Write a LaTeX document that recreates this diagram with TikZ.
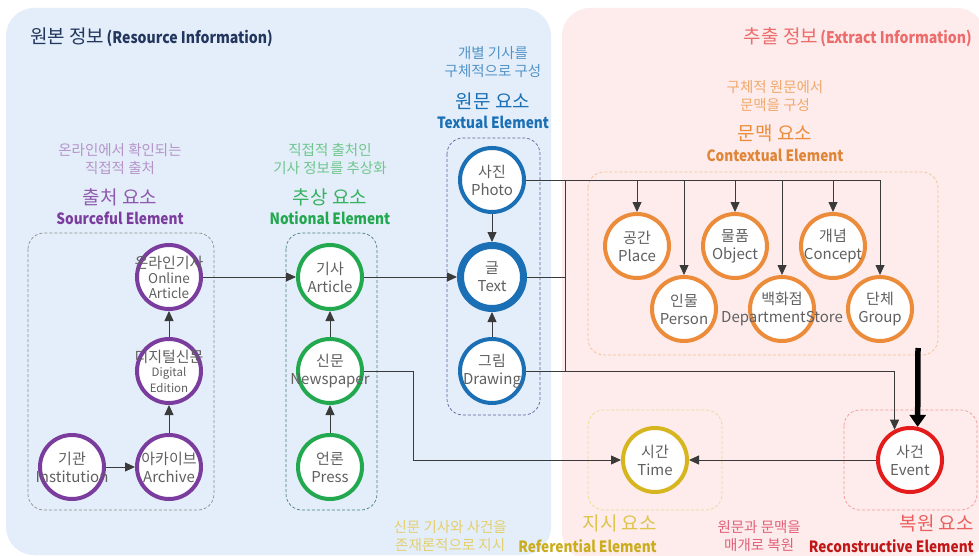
\documentclass[tikz,border=0pt]{standalone}
\usepackage{fontspec}
\setmainfont{Noto Sans CJK KR}
\usetikzlibrary{arrows.meta,calc}
\definecolor{panelblue}{HTML}{E3EEFA}
\definecolor{panelpink}{HTML}{FDECEB}
\definecolor{ln}{HTML}{3A3A3A}
\definecolor{cpurple}{HTML}{7A3D9E}
\definecolor{cgreen}{HTML}{22A84E}
\definecolor{cblue}{HTML}{1A6FB5}
\definecolor{corange}{HTML}{EC8B3A}
\definecolor{cyellow}{HTML}{D6B51E}
\definecolor{cred}{HTML}{E31B1B}
\definecolor{txtgray}{HTML}{606060}
\definecolor{navy}{HTML}{22365E}
\definecolor{rosedesc}{HTML}{E2607A}
\newcommand\sq[1]{\scalebox{0.88}[1]{#1}}
\newcommand\tw[2]{\makebox[0pt]{#1}\\\makebox[0pt]{#2}}
\begin{document}
\begin{tikzpicture}[x=1pt,y=-1pt,
  circ/.style={circle, draw=#1, line width=4pt, fill=white, minimum size=64pt, inner sep=0pt,
    align=center, text=txtgray, font=\fontsize{15}{18}\selectfont},
  grp/.style={draw=#1, dashed, dash pattern=on 3pt off 2pt, rounded corners=16pt, line width=0.7pt},
  conn/.style={line width=0.8pt, draw=ln, -{Triangle[length=10pt,width=9pt]}},
  bus/.style={line width=0.8pt, draw=ln},
  desc/.style={font=\fontsize{14.5}{18.5}\selectfont, align=center, inner sep=0pt},
  head/.style={font=\fontsize{19}{22}\selectfont, inner sep=0pt},
  eng/.style={font=\fontsize{15.5}{18}\selectfont\bfseries, inner sep=0pt}]
\useasboundingbox (0,0) rectangle (979,556);
\fill[white] (0,0) rectangle (979,556);
\begin{scope}
\clip (0,0) rectangle (979,556);
\fill[panelblue, rounded corners=28pt] (6,8) rectangle (551,555);
\fill[panelpink, rounded corners=28pt] (562,8) rectangle (985,560);
\end{scope}

% titles
\node[anchor=west, inner sep=0pt, text=navy] (title1) at (30,37)
  {{\fontsize{19}{20}\selectfont 원본 정보}{\fontsize{16}{18}\selectfont\bfseries\sq{\,(Resource Information)}}};
\node[anchor=east, inner sep=0pt, text=cred!65] (title2) at (972,37)
  {{\fontsize{19}{20}\selectfont 추출 정보}{\fontsize{16}{18}\selectfont\bfseries\sq{\,(Extract Information)}}};

% group boxes
\draw[grp=black!45] (28,233) rectangle (214,510);
\draw[grp=teal!45!gray] (286,233) rectangle (377,510);
\draw[grp=blue!25!gray] (447,138) rectangle (540,415);
\draw[grp=corange!55] (588,172) rectangle (938,355);
\draw[grp=cyellow!50] (588,410) rectangle (722,510);
\draw[grp=cred!45] (844,410) rectangle (977,510);

% labels top
\node[desc, text=cpurple!55] (d1) at (120,159) {온라인에서 확인되는\\직접적 출처};
\node[head, text=cpurple!85] (h1) at (120,197) {출처 요소};
\node[eng, text=cpurple] (e1) at (120,218) {\sq{Sourceful Element}};
\node[desc, text=cgreen!65] (d2) at (330,159) {직접적 출처인\\기사 정보를 추상화};
\node[head, text=cgreen!90] (h2) at (330,197) {추상 요소};
\node[eng, text=cgreen] (e2) at (330,218) {\sq{Notional Element}};
\node[desc, text=cblue!75] (d3) at (493,62) {개별 기사를\\구체적으로 구성};
\node[head, text=cblue] (h3) at (493,101) {원문 요소};
\node[eng, text=cblue] (e3) at (493,122) {\sq{Textual Element}};
\node[desc, text=corange!75] (d4) at (775,96) {구체적 원문에서\\문맥을 구성};
\node[head, text=corange] (h4) at (775,133) {문맥 요소};
\node[eng, text=corange!95!black] (e4) at (775,155) {\sq{Contextual Element}};

% labels bottom
\node[desc, text=cyellow!65, anchor=east] (d5) at (507,536) {신문 기사와 사건을\\존재론적으로 지시};
\node[head, text=cyellow!80, anchor=east] (h5) at (657,523) {지시 요소};
\node[eng, text=cyellow!95!black, anchor=east] (e5) at (657,546) {\sq{Referential Element}};
\node[desc, text=rosedesc, anchor=east] (d6) at (801,536) {원문과 문맥을\\매개로 복원};
\node[head, text=cred!70, anchor=east] (h6) at (974,523) {복원 요소};
\node[eng, text=cred!85!black, anchor=east] (e6) at (974,546) {\sq{Reconstructive Element}};

% nodes
\node[circ=cpurple] (onl) at (169,277) {\makebox[0pt]{온라인기사}\\[-3pt]{\fontsize{13.5}{16}\selectfont\makebox[0pt]{Online}}\\[-3pt]{\fontsize{13.5}{16}\selectfont\makebox[0pt]{Article}}};
\node[circ=cpurple] (dig) at (169,371) {\makebox[0pt]{디지털신문}\\[-4pt]{\fontsize{11.5}{13}\selectfont\makebox[0pt]{Digital}}\\[-2pt]{\fontsize{11.5}{13}\selectfont\makebox[0pt]{Edition}}};
\node[circ=cpurple] (arch) at (169,467) {\tw{아카이브}{Archive}};
\node[circ=cpurple] (inst) at (72,467) {\tw{기관}{Institution}};
\node[circ=cgreen] (art) at (330,277) {\tw{기사}{Article}};
\node[circ=cgreen] (news) at (330,371) {\tw{신문}{Newspaper}};
\node[circ=cgreen] (press) at (330,467) {\tw{언론}{Press}};
\node[circ=cblue] (photo) at (492,180) {\tw{사진}{Photo}};
\node[circ=cblue, line width=7pt, minimum size=63pt] (text) at (492,277) {\tw{글}{Text}};
\node[circ=cblue] (draw) at (492,371) {\tw{그림}{Drawing}};
\node[circ=corange] (place) at (637,246) {\tw{공간}{Place}};
\node[circ=corange] (obj) at (735,246) {\tw{물품}{Object}};
\node[circ=corange] (conc) at (833,246) {\tw{개념}{Concept}};
\node[circ=corange] (pers) at (684,309) {\tw{인물}{Person}};
\node[circ=corange] (dept) at (782,309) {\tw{백화점}{DepartmentStore}};
\node[circ=corange] (grp) at (880,309) {\tw{단체}{Group}};
\node[circ=cyellow] (time) at (655,460) {\tw{시간}{Time}};
\node[circ=cred] (event) at (910,460) {\tw{사건}{Event}};

% connectors
\draw[conn] (inst) -- (arch);
\draw[conn] (arch) -- (dig);
\draw[conn] (dig) -- (onl);
\draw[conn] (onl) -- (art);
\draw[conn] (press) -- (news);
\draw[conn] (news) -- (art);
\draw[conn] (art) -- (text);
\draw[conn] (photo) -- (text);
\draw[conn] (draw) -- (text);

\coordinate (bendN) at (413,0);
\draw[conn] (news.east) -- (news.east -| bendN) |- (time.west);
\draw[conn] (event.west) -- (time.east);
\draw[conn] (draw.east) -| (event.117);

\coordinate (busx) at (565,0);
\draw[bus] (photo.east) -- (photo.east -| grp);
\draw[bus] (photo.east -| busx) -- (draw.east -| busx);
\draw[bus] (text.east) -- (text.east -| busx);
\foreach \n in {place,obj,conc,pers,dept,grp}
  \draw[conn] (photo.east -| \n) -- (\n.north);

\coordinate (thk) at (918,348);
\draw[line width=5.5pt, draw=black, -{Triangle[length=12pt,width=16pt]}] (thk) -- (event.77);
\end{tikzpicture}
\end{document}
